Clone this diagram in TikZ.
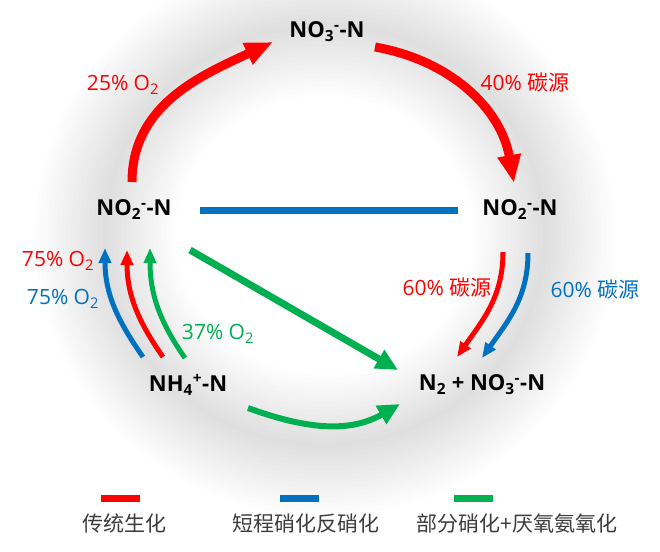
\documentclass[tikz,border=0pt]{standalone}
\usepackage{fontspec}
\setmainfont{Open Sans}
\newfontfamily\cjk{Noto Sans CJK SC}
\usetikzlibrary{arrows.meta}
\usetikzlibrary{positioning}

\begin{document}
\begin{tikzpicture}[x=1pt,y=1pt,->,
	chem node/.style={font=\fontsize{22}{26}\selectfont\bfseries,inner sep=0pt},
	rate node/.style={font=\fontsize{21}{25}\selectfont,inner sep=0pt},
	key text/.style={font=\fontsize{21}{25}\selectfont\cjk,text=keygray,inner sep=0pt},
	key bar/.style={minimum width=39pt,minimum height=7pt,inner sep=0pt},
	wide arrow/.style={line width=9pt,-{Triangle[length=28pt,width=22pt]}},
	mid arrow/.style={line width=7pt,-{Triangle[length=22pt,width=20pt]}},
	thin arrow/.style={line width=5pt,-{Triangle[length=15pt,width=12pt]}},
	halo/.style={-,draw=black,opacity=0.006}]
	
	\definecolor{nred}{RGB}{255,0,0}
	\definecolor{nblue}{RGB}{0,112,192}
	\definecolor{ngreen}{RGB}{0,176,80}
	\definecolor{keygray}{RGB}{60,60,60}
	
	\useasboundingbox (0,0) rectangle (660,-551);
	\foreach \w in {0,...,15}
	\draw[halo, line width=\w*9pt+6pt] (325,-235) ellipse (220 and 210);
	
	\node[chem node] (no3) at (327,-32) {NO\textsubscript{3}\textsuperscript{-}-N};
	\node[chem node] (no2l) at (134,-210) {NO\textsubscript{2}\textsuperscript{-}-N};
	\node[chem node] (no2r) at (520,-210) {NO\textsubscript{2}\textsuperscript{-}-N};
	\node[chem node] (nh4) at (188,-385) {NH\textsubscript{4}\textsuperscript{+}-N};
	\node[chem node] (prod) at (482,-385) {N\textsubscript{2} + NO\textsubscript{3}\textsuperscript{-}-N};
	
	\node[rate node, text=nred] (r25) at (123,-85) {25\% O\textsubscript{2}};
	\node[rate node, text=nred] (r40) at (525,-83) {40\% {\cjk 碳源}};
	\node[rate node, text=nred] (r75) at (58,-261) {75\% O\textsubscript{2}};
	\node[rate node, text=nblue] (b75) at (63,-299) {75\% O\textsubscript{2}};
	\node[rate node, text=ngreen] (g37) at (218,-334) {37\% O\textsubscript{2}};
	\node[rate node, text=nred] (r60) at (447,-288) {60\% {\cjk 碳源}};
	\node[rate node, text=nblue] (b60) at (595,-290) {60\% {\cjk 碳源}};
	
	\path[nred]
	([shift={(-2,28)}]no2l.center) edge[wide arrow, out=90, in=205] ([shift={(-54,-10)}]no3.center)
	([shift={(48,-15)}]no3.center) edge[wide arrow, out=-10, in=100] ([shift={(-6,27)}]no2r.center)
	([shift={(-25,28)}]nh4.center) edge[thin arrow, out=125, in=-90] ([shift={(-7,-40)}]no2l.center)
	([shift={(-17,-42)}]no2r.center) edge[thin arrow, out=-90, in=55] ([shift={(-25,28)}]prod.center);
	
	\path[nblue]
	([shift={(66,0)}]no2l.center) edge[-, line width=7pt] ([shift={(-62,0)}]no2r.center)
	([shift={(-45,28)}]nh4.center) edge[thin arrow, out=125, in=-90] ([shift={(-29,-38)}]no2l.center)
	([shift={(8,-43)}]no2r.center) edge[thin arrow, out=-90, in=55] ([shift={(0,27)}]prod.center);
	
	\path[ngreen]
	([shift={(56,-40)}]no2l.center) edge[mid arrow] ([shift={(-84,15)}]prod.center)
	([shift={(60,-23)}]nh4.center) edge[mid arrow, line width=6pt, out=-20, in=210] ([shift={(-82,-19)}]prod.center)
	([shift={(-3,27)}]nh4.center) edge[thin arrow, out=125, in=-90] ([shift={(16,-38)}]no2l.center);
	
	\node[key bar, fill=nred] (kred) at (120,-498) {};
	\node[key bar, fill=nblue] (kblue) at (299,-498) {};
	\node[key bar, fill=ngreen] (kgreen) at (473,-498) {};
	\node[key text] (tred) [below=12pt of kred, xshift=4pt] {传统生化};
	\node[key text] (tblue) [below=12pt of kblue, xshift=7pt] {短程硝化反硝化};
	\node[key text] (tgreen) [below=12pt of kgreen, xshift=44pt] {部分硝化+厌氧氨氧化};
\end{tikzpicture}
\end{document}
